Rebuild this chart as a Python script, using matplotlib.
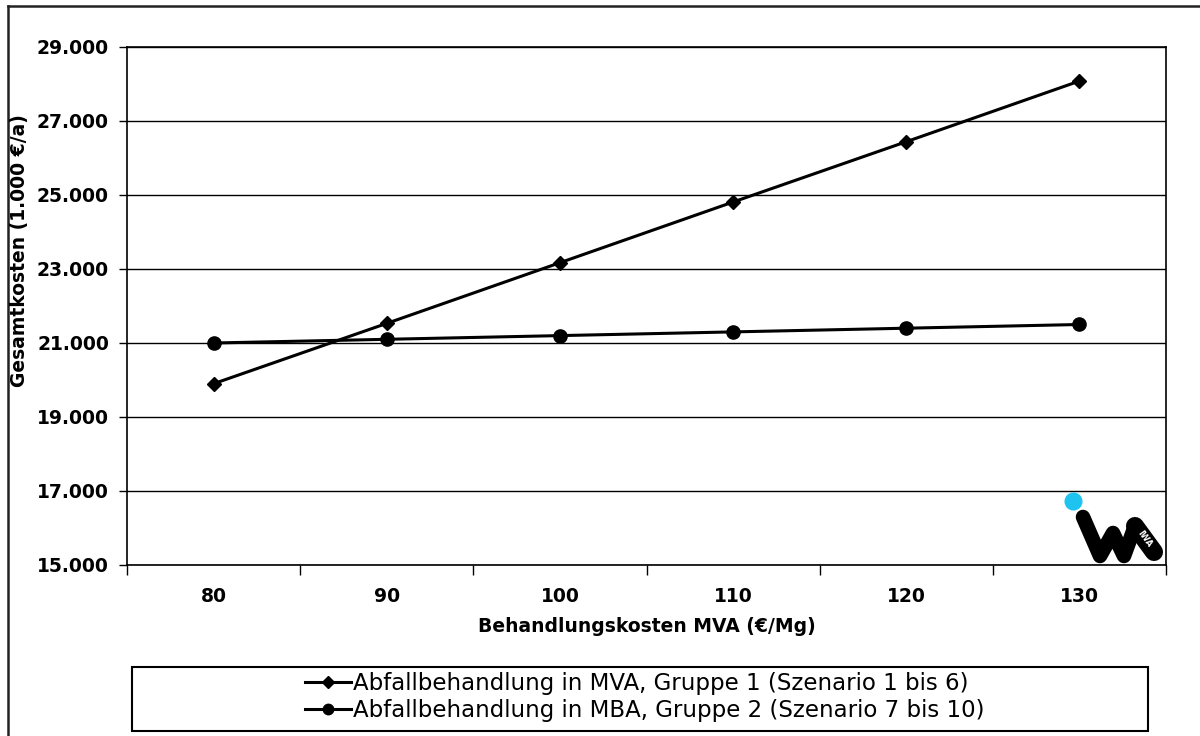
import matplotlib.pyplot as plt
from matplotlib.lines import Line2D
from matplotlib.patches import Rectangle

# Behandlungskosten MVA (€/Mg)
kosten_mva = [80, 90, 100, 110, 120, 130]
# Gesamtkosten in 1.000 €/a
gruppe1_mva = [19900, 21530, 23170, 24810, 26440, 28080]
gruppe2_mba = [21000, 21100, 21200, 21300, 21400, 21500]

y_ticks = [15000, 17000, 19000, 21000, 23000, 25000, 27000, 29000]
y_labels = ["15.000", "17.000", "19.000", "21.000", "23.000", "25.000", "27.000", "29.000"]

label_g1 = "Abfallbehandlung in MVA, Gruppe 1 (Szenario 1 bis 6)"
label_g2 = "Abfallbehandlung in MBA, Gruppe 2 (Szenario 7 bis 10)"

plt.rcParams["font.family"] = "DejaVu Sans"

W, H = 1200, 736
fig = plt.figure(figsize=(W / 100, H / 100), dpi=100)
ax = fig.add_axes([127 / W, 1 - 565 / H, (1166 - 127) / W, (565 - 47) / H])


def fx(x):
    return x / W


def fy(y):
    return 1 - y / H


pos = list(range(len(kosten_mva)))
ax.plot(pos, gruppe1_mva, color="black", lw=2.2, marker="D", ms=7, label=label_g1, zorder=3)
ax.plot(pos, gruppe2_mba, color="black", lw=2.2, marker="o", ms=9.5, label=label_g2, zorder=3)

ax.set_xlim(-0.5, len(pos) - 0.5)
ax.set_ylim(15000, 29000)

# Kategorieachse: Striche zwischen den Kategorien, Beschriftung mittig
ax.set_xticks([p - 0.5 for p in range(len(pos) + 1)])
ax.set_xticklabels([])
ax.set_xticks(pos, minor=True)
ax.set_xticklabels([str(k) for k in kosten_mva], minor=True, fontsize=13.5, fontweight="bold")
ax.tick_params(axis="x", which="major", direction="out", length=7, width=1)
ax.tick_params(axis="x", which="minor", length=0, pad=16)

ax.set_yticks(y_ticks)
ax.set_yticklabels(y_labels, fontsize=13.5, fontweight="bold")
ax.tick_params(axis="y", direction="out", length=6, width=1, pad=7)

ax.grid(axis="y", color="black", lw=1)
ax.set_axisbelow(True)
for s in ax.spines.values():
    s.set_linewidth(1.2)
    s.set_color("black")

ax.set_xlabel("Behandlungskosten MVA (€/Mg)", fontsize=13.5, fontweight="bold", labelpad=8)
fig.text(fx(20), fy(251), "Gesamtkosten (1.000 €/a)", fontsize=13.5, fontweight="bold",
         rotation=90, ha="center", va="center")

# Legende im Kasten unter dem Diagramm
fig.patches.append(Rectangle((fx(132), fy(731)), (1148 - 132) / W, (731 - 667) / H,
                             transform=fig.transFigure, fill=False, ec="black", lw=1.5))
handles = [Line2D([], [], color="black", lw=2.2, marker="D", ms=6),
           Line2D([], [], color="black", lw=2.2, marker="o", ms=7.5)]
fig.legend(handles, [label_g1, label_g2], loc="center", frameon=False,
           bbox_to_anchor=(fx(645), fy(697)), fontsize=16.5, handlelength=2.0,
           handletextpad=0.1, labelspacing=0.2, borderpad=0)

# Rahmen um die Grafik
fig.add_artist(Line2D([fx(8), fx(8)], [0, fy(6)], transform=fig.transFigure, color="#222222", lw=1.8))
fig.add_artist(Line2D([fx(8), 1], [fy(6), fy(6)], transform=fig.transFigure, color="#222222", lw=1.8))

# IWA-Logo
fig.add_artist(Line2D([fx(1073)], [fy(501)], transform=fig.transFigure, marker="o", ms=12,
                      color="#1ec3f0", lw=0, zorder=5))
logo_x = [1083, 1100, 1113, 1124, 1135]
logo_y = [517, 556, 533, 556, 526]
fig.add_artist(Line2D([fx(x) for x in logo_x], [fy(y) for y in logo_y], transform=fig.transFigure,
                      color="black", lw=10.5, solid_capstyle="round", solid_joinstyle="round", zorder=5))
fig.add_artist(Line2D([fx(1135), fx(1154)], [fy(526), fy(552)], transform=fig.transFigure,
                      color="black", lw=13, solid_capstyle="round", zorder=5))
fig.text(fx(1145), fy(539), "IWA", color="white", fontsize=6, fontweight="bold",
         rotation=-54, ha="center", va="center", zorder=6)

fig.savefig("out.png", dpi=100)
